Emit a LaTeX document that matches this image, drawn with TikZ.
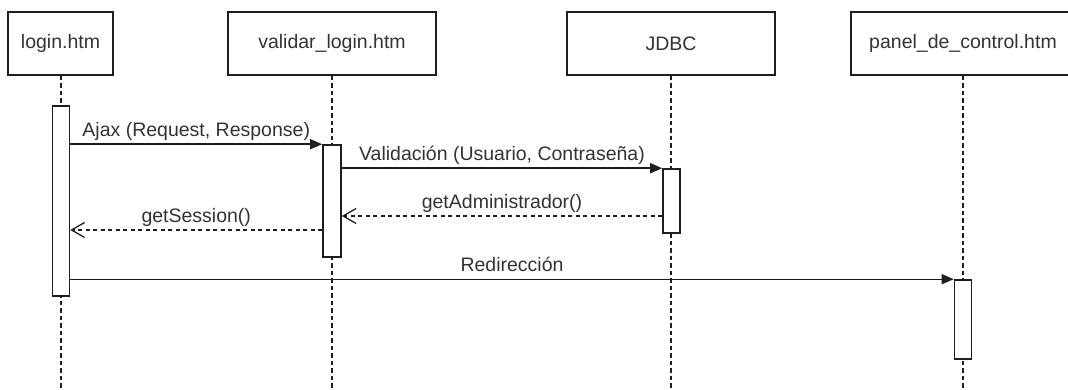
\documentclass[tikz,border=0pt]{standalone}
\usepackage{fontspec}
\setmainfont{Liberation Sans}
\usetikzlibrary{arrows.meta}
\definecolor{linec}{HTML}{1E1E1E}
\definecolor{textc}{HTML}{333333}
\begin{document}
\begin{tikzpicture}[x=1pt,y=-1pt,
  actor/.style={draw=linec,line width=1.6pt,fill=white,minimum height=63pt,inner sep=0pt,
     text=textc,font=\fontsize{19.5}{23}\selectfont},
  actbar/.style={draw=linec,line width=1.6pt,fill=white,minimum width=17pt,inner sep=0pt},
  lifeline/.style={draw=linec,line width=1.3pt,dash pattern=on 4.5pt off 3pt},
  msg/.style={draw=linec,line width=1.4pt,-{Triangle[length=12pt,width=10pt]}},
  reply/.style={draw=linec,line width=1.4pt,dash pattern=on 4pt off 3.5pt,
     -{Straight Barb[length=13pt,width=15pt,line width=1.3pt]}},
  lbl/.style={inner sep=0pt,text depth=4pt,text=textc,font=\fontsize{19.5}{23}\selectfont}]
\useasboundingbox[fill=white] (0,0) rectangle (1068,390);

% actors
\node[actor,minimum width=105pt] (login) at (60.5,43.5) {login.htm};
\node[actor,minimum width=208pt] (val) at (332,43.5) {validar\_login.htm};
\node[actor,minimum width=208pt] (jdbc) at (671,43.5) {JDBC};
\node[actor,minimum width=224pt] (panel) at (963,43.5) {panel\_de\_control.htm};

% lifeline ends
\coordinate (e1) at (61,392);
\coordinate (e2) at (332,392);
\coordinate (e3) at (671,392);
\coordinate (e4) at (963,392);
\draw[lifeline] (login.south -| e1) -- (e1);
\draw[lifeline] (val.south) -- (e2);
\draw[lifeline] (jdbc.south) -- (e3);
\draw[lifeline] (panel.south) -- (e4);

% activation bars
\node[actbar,minimum height=190pt] (a1) at (61,201) {};
\node[actbar,minimum width=18pt,minimum height=112pt] (a2) at (332,201) {};
\node[actbar,minimum height=64pt] (a3) at (671.5,201) {};
\node[actbar,minimum height=79pt] (a4) at (963,319.5) {};

% messages
\draw[msg] (a1.east |- a2.north) -- node[lbl,midway,above=3pt] {Ajax (Request, Response)} (a2.north west);
\draw[msg] (a2.east |- a3.north) -- node[lbl,midway,above=3pt] {Validación (Usuario, Contraseña)} (a3.north west);
\coordinate (r1) at (0,216);
\coordinate (r2) at (0,230);
\draw[reply] (a3.west |- r1) -- node[lbl,midway,above=3pt] {getAdministrador()} (a2.east |- r1);
\draw[reply] (a2.west |- r2) -- node[lbl,midway,above=3pt] {getSession()} (a1.east |- r2);
\draw[msg] (a1.east |- a4.north) -- node[lbl,midway,above=3pt] {Redirección} (a4.north west);
\end{tikzpicture}
\end{document}
